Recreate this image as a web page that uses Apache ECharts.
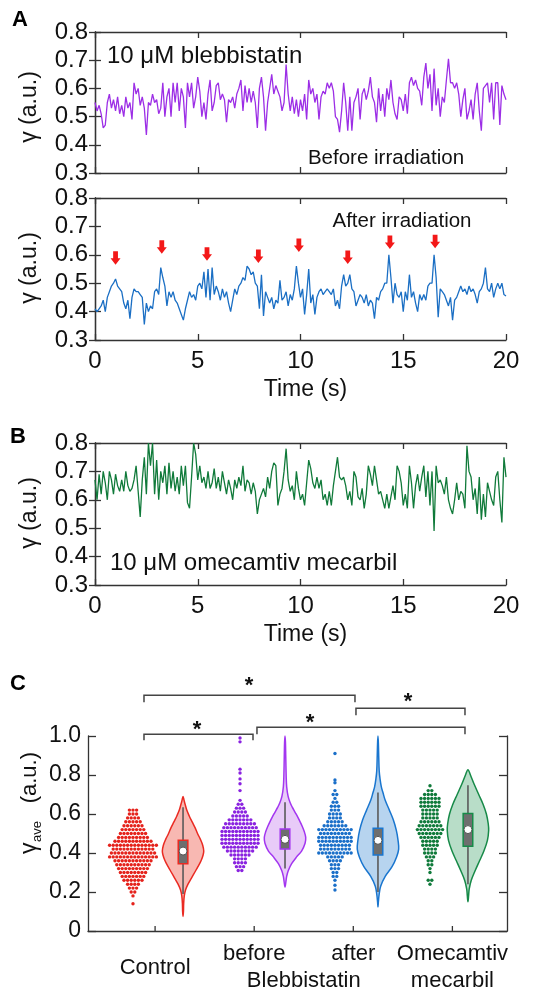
<!DOCTYPE html>
<html><head><meta charset="utf-8">
<script src="https://cdn.jsdelivr.net/npm/echarts@6/dist/echarts.min.js"></script>
<style>html,body{margin:0;padding:0;background:#fff}#c{width:556px;height:991px}</style>
</head><body><div id="c"></div>
<script>
// ---------------- DATA ----------------
const timeStep = 0.1; // s between samples, t = 0 … 20 s
const timeTicks = [0, 5, 10, 15, 20];
const gammaTicks = [0.3, 0.4, 0.5, 0.6, 0.7, 0.8];

// Panel A (top): 10 uM blebbistatin, before irradiation
const blebBefore = [
0.55,0.52,0.54,0.51,0.46,0.47,0.55,0.58,0.53,0.56,
0.52,0.57,0.51,0.54,0.50,0.57,0.53,0.55,0.49,0.62,
0.58,0.60,0.54,0.57,0.53,0.435,0.55,0.54,0.58,0.55,
0.56,0.51,0.53,0.62,0.50,0.57,0.60,0.50,0.62,0.55,
0.62,0.52,0.60,0.57,0.46,0.62,0.57,0.62,0.53,0.57,
0.64,0.59,0.50,0.55,0.49,0.58,0.63,0.52,0.55,0.61,
0.62,0.56,0.58,0.56,0.48,0.56,0.55,0.57,0.53,0.58,
0.60,0.63,0.52,0.61,0.55,0.60,0.55,0.59,0.55,0.46,
0.60,0.64,0.57,0.45,0.55,0.60,0.65,0.58,0.61,0.59,
0.57,0.52,0.55,0.685,0.58,0.52,0.57,0.51,0.56,0.50,
0.56,0.52,0.58,0.49,0.63,0.58,0.60,0.55,0.58,0.49,
0.57,0.59,0.58,0.62,0.60,0.62,0.59,0.50,0.49,0.445,
0.52,0.62,0.55,0.45,0.57,0.45,0.55,0.57,0.60,0.49,
0.58,0.60,0.56,0.59,0.64,0.57,0.55,0.48,0.60,0.52,
0.58,0.50,0.60,0.56,0.63,0.55,0.51,0.49,0.57,0.56,
0.52,0.58,0.51,0.62,0.64,0.61,0.63,0.60,0.59,0.54,
0.64,0.69,0.60,0.65,0.52,0.67,0.54,0.60,0.50,0.57,
0.55,0.63,0.705,0.62,0.62,0.60,0.62,0.58,0.50,0.56,
0.60,0.49,0.52,0.56,0.49,0.58,0.62,0.52,0.45,0.60,
0.61,0.62,0.55,0.62,0.49,0.62,0.62,0.47,0.61,0.58,
0.56];

// Panel A (bottom): after irradiation
const blebAfter = [
0.41,0.40,0.41,0.42,0.44,0.40,0.45,0.47,0.49,0.50,
0.515,0.49,0.48,0.47,0.43,0.41,0.44,0.375,0.45,0.48,
0.47,0.47,0.46,0.45,0.355,0.43,0.40,0.42,0.41,0.47,
0.48,0.46,0.555,0.52,0.49,0.42,0.47,0.45,0.47,0.44,
0.43,0.41,0.39,0.37,0.41,0.44,0.47,0.45,0.46,0.44,
0.49,0.50,0.48,0.54,0.45,0.55,0.44,0.555,0.46,0.49,
0.47,0.44,0.48,0.45,0.47,0.43,0.40,0.44,0.48,0.46,
0.49,0.50,0.52,0.51,0.56,0.55,0.53,0.54,0.50,0.49,
0.41,0.53,0.385,0.47,0.45,0.43,0.45,0.41,0.44,0.43,
0.51,0.44,0.45,0.47,0.42,0.46,0.44,0.48,0.56,0.50,
0.45,0.48,0.39,0.46,0.55,0.43,0.46,0.39,0.45,0.47,
0.48,0.46,0.47,0.48,0.47,0.46,0.48,0.42,0.44,0.41,
0.49,0.53,0.49,0.50,0.53,0.48,0.47,0.42,0.44,0.46,
0.45,0.43,0.46,0.42,0.44,0.43,0.375,0.45,0.44,0.47,
0.48,0.50,0.50,0.60,0.52,0.43,0.50,0.46,0.45,0.47,
0.40,0.47,0.44,0.53,0.45,0.47,0.43,0.40,0.46,0.44,
0.46,0.44,0.49,0.50,0.50,0.60,0.52,0.38,0.48,0.47,
0.46,0.44,0.42,0.45,0.37,0.44,0.45,0.47,0.49,0.47,
0.48,0.46,0.49,0.47,0.48,0.46,0.43,0.47,0.48,0.50,
0.555,0.48,0.47,0.50,0.45,0.48,0.50,0.48,0.50,0.46,
0.455];
const arrowTimes = [1.0, 3.25, 5.45, 7.95, 9.92, 12.3, 14.35, 16.55];
const arrowTips  = [0.565, 0.604, 0.579, 0.571, 0.61, 0.568, 0.62, 0.623];

// Panel B: 10 uM omecamtiv mecarbil
const omecamtiv = [
0.67,0.60,0.69,0.62,0.70,0.66,0.60,0.70,0.67,0.62,
0.69,0.65,0.63,0.67,0.63,0.70,0.65,0.63,0.64,0.67,
0.72,0.63,0.54,0.67,0.75,0.62,0.80,0.72,0.80,0.62,
0.74,0.60,0.70,0.66,0.72,0.62,0.73,0.64,0.70,0.63,
0.68,0.62,0.72,0.65,0.72,0.59,0.57,0.68,0.80,0.76,
0.67,0.72,0.66,0.68,0.64,0.70,0.64,0.66,0.71,0.64,
0.68,0.63,0.70,0.66,0.62,0.67,0.64,0.60,0.67,0.64,
0.68,0.65,0.72,0.63,0.67,0.66,0.62,0.66,0.63,0.55,
0.60,0.62,0.64,0.61,0.68,0.64,0.70,0.73,0.72,0.58,
0.62,0.64,0.70,0.78,0.67,0.63,0.65,0.60,0.70,0.64,
0.60,0.62,0.58,0.66,0.74,0.71,0.66,0.64,0.68,0.64,
0.67,0.60,0.62,0.58,0.63,0.58,0.65,0.70,0.75,0.68,
0.67,0.68,0.65,0.60,0.63,0.58,0.70,0.68,0.61,0.60,
0.64,0.57,0.62,0.72,0.69,0.65,0.72,0.67,0.62,0.63,
0.60,0.57,0.62,0.57,0.61,0.65,0.60,0.72,0.70,0.66,
0.58,0.62,0.57,0.72,0.66,0.57,0.65,0.69,0.63,0.68,
0.72,0.61,0.70,0.58,0.70,0.49,0.72,0.66,0.67,0.65,
0.62,0.68,0.60,0.57,0.55,0.60,0.66,0.60,0.63,0.62,
0.57,0.79,0.70,0.68,0.60,0.64,0.55,0.68,0.53,0.62,
0.54,0.66,0.63,0.60,0.58,0.68,0.70,0.60,0.52,0.75,
0.68];

// Panel C: gamma_ave per cell, as [value, number of dots at that value]
const groupNames = ['Control', 'before', 'after', 'Omecamtiv mecarbil'];
const controlDots = [[0.14,1],[0.18,1],[0.20,2],[0.22,3],[0.24,4],[0.26,6],[0.28,7],[0.30,8],[0.32,9],[0.34,10],[0.36,11],[0.38,14],[0.40,13],[0.42,12],[0.44,14],[0.46,11],[0.48,9],[0.50,8],[0.52,7],[0.54,6],[0.56,5],[0.58,4],[0.60,3],[0.62,3]];
const beforeDots = [[0.31,2],[0.33,3],[0.35,4],[0.37,4],[0.39,6],[0.41,8],[0.43,10],[0.45,11],[0.47,11],[0.49,11],[0.51,11],[0.53,10],[0.55,9],[0.57,7],[0.59,5],[0.61,4],[0.63,3],[0.65,2],[0.67,1],[0.72,1],[0.755,1],[0.78,1],[0.81,1],[0.83,1],[0.97,1],[0.99,1]];
const afterDots = [[0.21,1],[0.235,1],[0.26,1],[0.28,2],[0.30,2],[0.32,3],[0.34,3],[0.36,4],[0.38,5],[0.40,10],[0.42,9],[0.44,9],[0.46,10],[0.48,10],[0.50,9],[0.52,10],[0.54,7],[0.56,5],[0.58,4],[0.60,4],[0.62,3],[0.64,3],[0.66,2],[0.68,1],[0.70,2],[0.72,1],[0.76,1],[0.775,1],[0.91,1]];
const omecDots = [[0.24,1],[0.26,2],[0.30,1],[0.32,1],[0.34,2],[0.36,2],[0.38,3],[0.40,4],[0.42,4],[0.44,5],[0.46,5],[0.48,6],[0.50,7],[0.52,8],[0.54,7],[0.56,6],[0.58,5],[0.60,5],[0.62,5],[0.64,6],[0.66,6],[0.68,6],[0.70,4],[0.72,2],[0.745,1]];
// violin density outline: [gamma, relative half-width]
const controlViolin = [[0.075,0],[0.10,0.02],[0.14,0.03],[0.18,0.06],[0.21,0.12],[0.24,0.24],[0.27,0.40],[0.30,0.56],[0.33,0.72],[0.36,0.87],[0.39,0.97],[0.41,1.0],[0.44,0.95],[0.47,0.84],[0.50,0.70],[0.53,0.58],[0.56,0.44],[0.59,0.30],[0.62,0.18],[0.65,0.10],[0.67,0.05],[0.69,0]];
const beforeViolin = [[0.225,0],[0.25,0.04],[0.28,0.08],[0.31,0.16],[0.345,0.32],[0.38,0.56],[0.41,0.80],[0.45,0.97],[0.48,1.0],[0.51,0.93],[0.535,0.84],[0.56,0.73],[0.585,0.61],[0.61,0.48],[0.635,0.35],[0.66,0.24],[0.69,0.15],[0.74,0.08],[0.80,0.055],[0.90,0.035],[0.97,0.02],[1.0,0]];
const afterViolin = [[0.123,0],[0.15,0.02],[0.19,0.06],[0.23,0.13],[0.28,0.35],[0.33,0.68],[0.38,0.90],[0.42,1.0],[0.465,0.97],[0.515,0.89],[0.57,0.74],[0.62,0.55],[0.67,0.35],[0.71,0.24],[0.74,0.16],[0.78,0.10],[0.82,0.06],[0.90,0.035],[0.96,0.02],[1.0,0]];
const omecViolin = [[0.15,0],[0.18,0.03],[0.215,0.06],[0.26,0.16],[0.31,0.35],[0.36,0.56],[0.41,0.77],[0.465,0.94],[0.515,1.0],[0.55,0.98],[0.60,0.89],[0.65,0.73],[0.70,0.52],[0.755,0.29],[0.80,0.12],[0.827,0]];
// box: [whisker low, Q1, median, Q3, whisker high]
const boxStats = [
  [0.19, 0.345, 0.41, 0.465, 0.635],
  [0.32, 0.42, 0.47, 0.523, 0.66],
  [0.20, 0.39, 0.465, 0.527, 0.71],
  [0.24, 0.435, 0.52, 0.603, 0.747]
];
const gammaAveTicks = [0, 0.2, 0.4, 0.6, 0.8, 1.0];
// x positions of the groups on the panel-C axis
const groupTickX = [1, 2, 3, 4];
const scatterX = [0.777, 1.857, 2.815, 3.774];
const violinX = [1.282, 2.311, 3.249, 4.157];
const catLabels = [['Control'], ['before'], ['after'], ['Omecamtiv', 'mecarbil']];
const catRow = [0.5, 0, 0, 0];
const sharedLabel = {text: 'Blebbistatin', x: 2.5, row: 1};
// significance brackets: [x1, x2, top, end, starX, starY]
const brackets = [
  [0.888, 3.017, 1.209, 1.173, 1.948, 1.280],
  [3.027, 4.127, 1.142, 1.106, 3.552, 1.199],
  [2.028, 4.127, 1.045, 1.009, 2.563, 1.091],
  [0.888, 1.988, 1.009, 0.978, 1.423, 1.055]
];

// ---------------- STYLE ----------------
const FONT = '"Liberation Sans", Arial, Helvetica, sans-serif';
const AX = '#333';
const TXT = '#111';
const dotColors = ['#e5221b', '#8a22e0', '#1a6fc9', '#0f7a3a'];
const vStroke = ['#ea2a22', '#a336f0', '#1a76cf', '#178a48'];
const vFill = ['#f8b8b2', '#e8cbf8', '#b7d4ef', '#b8ddc8'];
const VHALF = 20.7, BOXHALF = 4.8, DOT = 3.4, DOTGAP = 3.6;
const TICKFS = 24;

const series = [];
const toXY = arr => arr.map((v, i) => [Math.round(i * timeStep * 100) / 100, v]);
function lineSeries(xi, yi, data, color) {
  return {type: 'line', xAxisIndex: xi, yAxisIndex: yi, data: toXY(data), showSymbol: false,
    lineStyle: {color: color, width: 1.3}, itemStyle: {color: color}, animation: false, z: 3};
}
series.push(lineSeries(0, 0, blebBefore, '#9c2ee6'));
series.push(lineSeries(2, 2, blebAfter, '#1b6fc4'));
series.push(lineSeries(4, 4, omecamtiv, '#107a3a'));
series.push({type: 'custom', xAxisIndex: 2, yAxisIndex: 2, clip: false, animation: false, z: 4,
  data: arrowTimes.map((t, i) => [t, arrowTips[i]]),
  renderItem: (params, api) => {
    const p = api.coord([api.value(0), api.value(1)]);
    const x = p[0], y = p[1];
    return {type: 'polygon', shape: {points: [[x, y], [x - 5, y - 6.5], [x - 2.4, y - 6.5], [x - 2.4, y - 13.5], [x + 2.4, y - 13.5], [x + 2.4, y - 6.5], [x + 5, y - 6.5]]},
      style: {fill: '#f31818'}};
  }});

// Panel C violins
const violins = [controlViolin, beforeViolin, afterViolin, omecViolin];
series.push({type: 'custom', xAxisIndex: 6, yAxisIndex: 6, clip: false, animation: false, z: 2,
  data: violinX.map((x, g) => [x, g]),
  renderItem: (params, api) => {
    const cx = api.value(0), g = api.value(1);
    const prof = violins[g];
    const right = prof.map(([y, w]) => { const p = api.coord([cx, y]); return [p[0] + w * VHALF, p[1]]; });
    const left = prof.slice(1, -1).reverse().map(([y, w]) => { const p = api.coord([cx, y]); return [p[0] - w * VHALF, p[1]]; });
    return {type: 'polygon', shape: {points: right.concat(left), smooth: 0.35},
      style: {fill: vFill[g], stroke: vStroke[g], lineWidth: 1.5}};
  }});
// boxes
series.push({type: 'custom', xAxisIndex: 6, yAxisIndex: 6, clip: false, animation: false, z: 5,
  data: violinX.map((x, g) => [x, g]),
  renderItem: (params, api) => {
    const cx = api.value(0), g = api.value(1);
    const s = boxStats[g];
    const yy = s.map(v => api.coord([cx, v])[1]);
    const x = api.coord([cx, 0])[0];
    return {type: 'group', children: [
      {type: 'line', shape: {x1: x, y1: yy[0], x2: x, y2: yy[4]}, style: {stroke: '#5a5a5a', lineWidth: 1.6}},
      {type: 'rect', shape: {x: x - BOXHALF, y: yy[3], width: 2 * BOXHALF, height: yy[1] - yy[3]}, style: {fill: '#6e6e6e', stroke: vStroke[g], lineWidth: 1.5}},
      {type: 'circle', shape: {cx: x, cy: yy[2], r: 4}, style: {fill: '#fff', stroke: '#555', lineWidth: 1}}
    ]};
  }});
// swarm dots
const dotSets = [controlDots, beforeDots, afterDots, omecDots];
dotSets.forEach((set, g) => {
  const data = [];
  set.forEach(([v, n]) => {
    for (let k = 0; k < n; k++) {
      data.push({value: [scatterX[g], v], symbolOffset: [(k - (n - 1) / 2) * DOTGAP, 0]});
    }
  });
  series.push({type: 'scatter', xAxisIndex: 6, yAxisIndex: 6, data: data, symbol: 'circle', symbolSize: DOT,
    itemStyle: {color: dotColors[g], opacity: 1}, animation: false, z: 4, silent: true});
});
// brackets and stars
series.push({type: 'custom', xAxisIndex: 6, yAxisIndex: 6, clip: false, animation: false, z: 5,
  data: brackets,
  renderItem: (params, api) => {
    const a = api.coord([api.value(0), api.value(2)]);
    const b = api.coord([api.value(1), api.value(2)]);
    const e = api.coord([api.value(0), api.value(3)]);
    const s = api.coord([api.value(4), api.value(5)]);
    return {type: 'group', children: [
      {type: 'polyline', shape: {points: [[a[0], e[1]], a, b, [b[0], e[1]]]}, style: {stroke: '#444', lineWidth: 1.5, fill: null}},
      {type: 'text', x: s[0], y: s[1] + 4.5, style: {text: '*', font: 'bold 22px ' + FONT, fill: TXT, align: 'center', verticalAlign: 'middle'}}
    ]};
  }});
// category ticks and labels
series.push({type: 'custom', xAxisIndex: 6, yAxisIndex: 6, clip: false, animation: false, z: 5,
  data: groupTickX.map((x, i) => [x, i]),
  renderItem: (params, api) => {
    const i = api.value(1);
    const p = api.coord([api.value(0), 0]);
    const ch = [{type: 'line', shape: {x1: p[0], y1: p[1], x2: p[0], y2: p[1] - 5}, style: {stroke: AX, lineWidth: 1.3}}];
    catLabels[i].forEach((t, r) => {
      ch.push({type: 'text', x: p[0], y: p[1] + 23 + (catRow[i] + r) * 27,
        style: {text: t, font: '22px ' + FONT, fill: TXT, align: 'center', verticalAlign: 'middle'}});
    });
    if (i === 0) {
      const q = api.coord([sharedLabel.x, 0]);
      ch.push({type: 'text', x: q[0], y: q[1] + 23 + sharedLabel.row * 27,
        style: {text: sharedLabel.text, font: '22px ' + FONT, fill: TXT, align: 'center', verticalAlign: 'middle'}});
    }
    return {type: 'group', children: ch};
  }});

// ---------------- AXES ----------------
const lineStyle = {color: AX, width: 1.3};
function xTime(grid, showLabels, name) {
  return [
    {gridIndex: grid, type: 'value', min: timeTicks[0], max: timeTicks[timeTicks.length - 1], interval: timeTicks[1] - timeTicks[0], position: 'bottom',
      axisLine: {show: true, lineStyle}, axisTick: {show: true, inside: true, length: 6, lineStyle},
      axisLabel: {show: showLabels, fontSize: TICKFS, fontFamily: FONT, color: TXT, margin: 9},
      splitLine: {show: false}, name: name, nameLocation: 'middle', nameGap: 38,
      nameTextStyle: {fontSize: 23, fontFamily: FONT, color: TXT, padding: [0, 0, 0, 10]}},
    {gridIndex: grid, type: 'value', min: timeTicks[0], max: timeTicks[timeTicks.length - 1], interval: timeTicks[1] - timeTicks[0], position: 'top',
      axisLine: {show: true, lineStyle}, axisTick: {show: true, inside: true, length: 6, lineStyle},
      axisLabel: {show: false}, splitLine: {show: false}}
  ];
}
function yGamma(grid) {
  return [
    {gridIndex: grid, type: 'value', min: gammaTicks[0], max: gammaTicks[gammaTicks.length - 1], interval: 0.1, position: 'left',
      axisLine: {show: true, lineStyle}, axisTick: {show: true, inside: true, length: 6, lineStyle},
      axisLabel: {fontSize: TICKFS, fontFamily: FONT, color: TXT, margin: 7, formatter: v => v.toFixed(1)},
      splitLine: {show: false}},
    {gridIndex: grid, type: 'value', min: gammaTicks[0], max: gammaTicks[gammaTicks.length - 1], interval: 0.1, position: 'right',
      axisLine: {show: true, lineStyle}, axisTick: {show: true, inside: true, length: 6, lineStyle},
      axisLabel: {show: false}, splitLine: {show: false}}
  ];
}
const xAxis = [].concat(xTime(0, false, ''), xTime(1, true, 'Time (s)'), xTime(2, true, 'Time (s)'), [
  {gridIndex: 3, type: 'value', min: 0.323, max: 4.551, position: 'bottom',
    axisLine: {show: true, lineStyle}, axisTick: {show: false}, axisLabel: {show: false}, splitLine: {show: false}}
]);
const yAxis = [].concat(yGamma(0), yGamma(1), yGamma(2), [
  {gridIndex: 3, type: 'value', min: gammaAveTicks[0], max: gammaAveTicks[gammaAveTicks.length - 1], interval: 0.2, position: 'left',
    axisLine: {show: true, lineStyle}, axisTick: {show: true, inside: true, length: 8, lineStyle},
    axisLabel: {fontSize: 23, fontFamily: FONT, color: TXT, margin: 7, formatter: v => v === 0 ? '0' : v.toFixed(1)},
    splitLine: {show: false}},
  {gridIndex: 3, type: 'value', min: gammaAveTicks[0], max: gammaAveTicks[gammaAveTicks.length - 1], interval: 0.2, position: 'right',
    axisLine: {show: true, lineStyle}, axisTick: {show: true, inside: true, length: 8, lineStyle},
    axisLabel: {show: false}, splitLine: {show: false}}
]);

const txt = (t, x, y, size, extra) => Object.assign({type: 'text', x: x, y: y, silent: true,
  style: {text: t, font: size + 'px ' + FONT, fill: TXT, align: 'center', verticalAlign: 'middle'}}, extra || {});
const graphic = [
  {type: 'text', x: 20, y: 20, style: {text: 'A', font: 'bold 22px ' + FONT, fill: '#000', align: 'center', verticalAlign: 'middle'}},
  {type: 'text', x: 18, y: 437, style: {text: 'B', font: 'bold 22px ' + FONT, fill: '#000', align: 'center', verticalAlign: 'middle'}},
  {type: 'text', x: 18, y: 684, style: {text: 'C', font: 'bold 22px ' + FONT, fill: '#000', align: 'center', verticalAlign: 'middle'}},
  {type: 'text', x: 107, y: 56, style: {text: '10 μM blebbistatin', font: '24px ' + FONT, fill: TXT, align: 'left', verticalAlign: 'middle'}},
  txt('Before irradiation', 386, 158, 20.5),
  txt('After irradiation', 402, 221, 20.5),
  {type: 'text', x: 110, y: 563, style: {text: '10 μM omecamtiv mecarbil', font: '24px ' + FONT, fill: TXT, align: 'left', verticalAlign: 'middle'}},
  txt('γ (a.u.)', 30, 107, 23, {rotation: Math.PI / 2}),
  txt('γ (a.u.)', 30, 268, 23, {rotation: Math.PI / 2}),
  txt('γ (a.u.)', 30, 513, 23, {rotation: Math.PI / 2}),
  {type: 'group', x: 30, y: 805, rotation: Math.PI / 2, children: [
    {type: 'text', x: -49, y: 0, style: {text: 'γ', font: '23px ' + FONT, fill: TXT, align: 'left', verticalAlign: 'middle'}},
    {type: 'text', x: -37, y: 7, style: {text: 'ave', font: '13px ' + FONT, fill: TXT, align: 'left', verticalAlign: 'middle'}},
    {type: 'text', x: 53, y: 0, style: {text: '(a.u.)', font: '22px ' + FONT, fill: TXT, align: 'right', verticalAlign: 'middle'}}
  ]}
];

const chart = echarts.init(document.getElementById('c'), null, {renderer: 'canvas', width: 556, height: 991});
chart.setOption({
  backgroundColor: '#fff',
  animation: false,
  textStyle: {fontFamily: FONT},
  grid: [
    {left: 95, top: 32, width: 411, height: 141},
    {left: 95, top: 198, width: 411, height: 142},
    {left: 95, top: 443, width: 411, height: 142},
    {left: 88, top: 736, width: 419, height: 195}
  ],
  xAxis: xAxis,
  yAxis: yAxis,
  series: series,
  graphic: graphic
});
</script></body></html>
